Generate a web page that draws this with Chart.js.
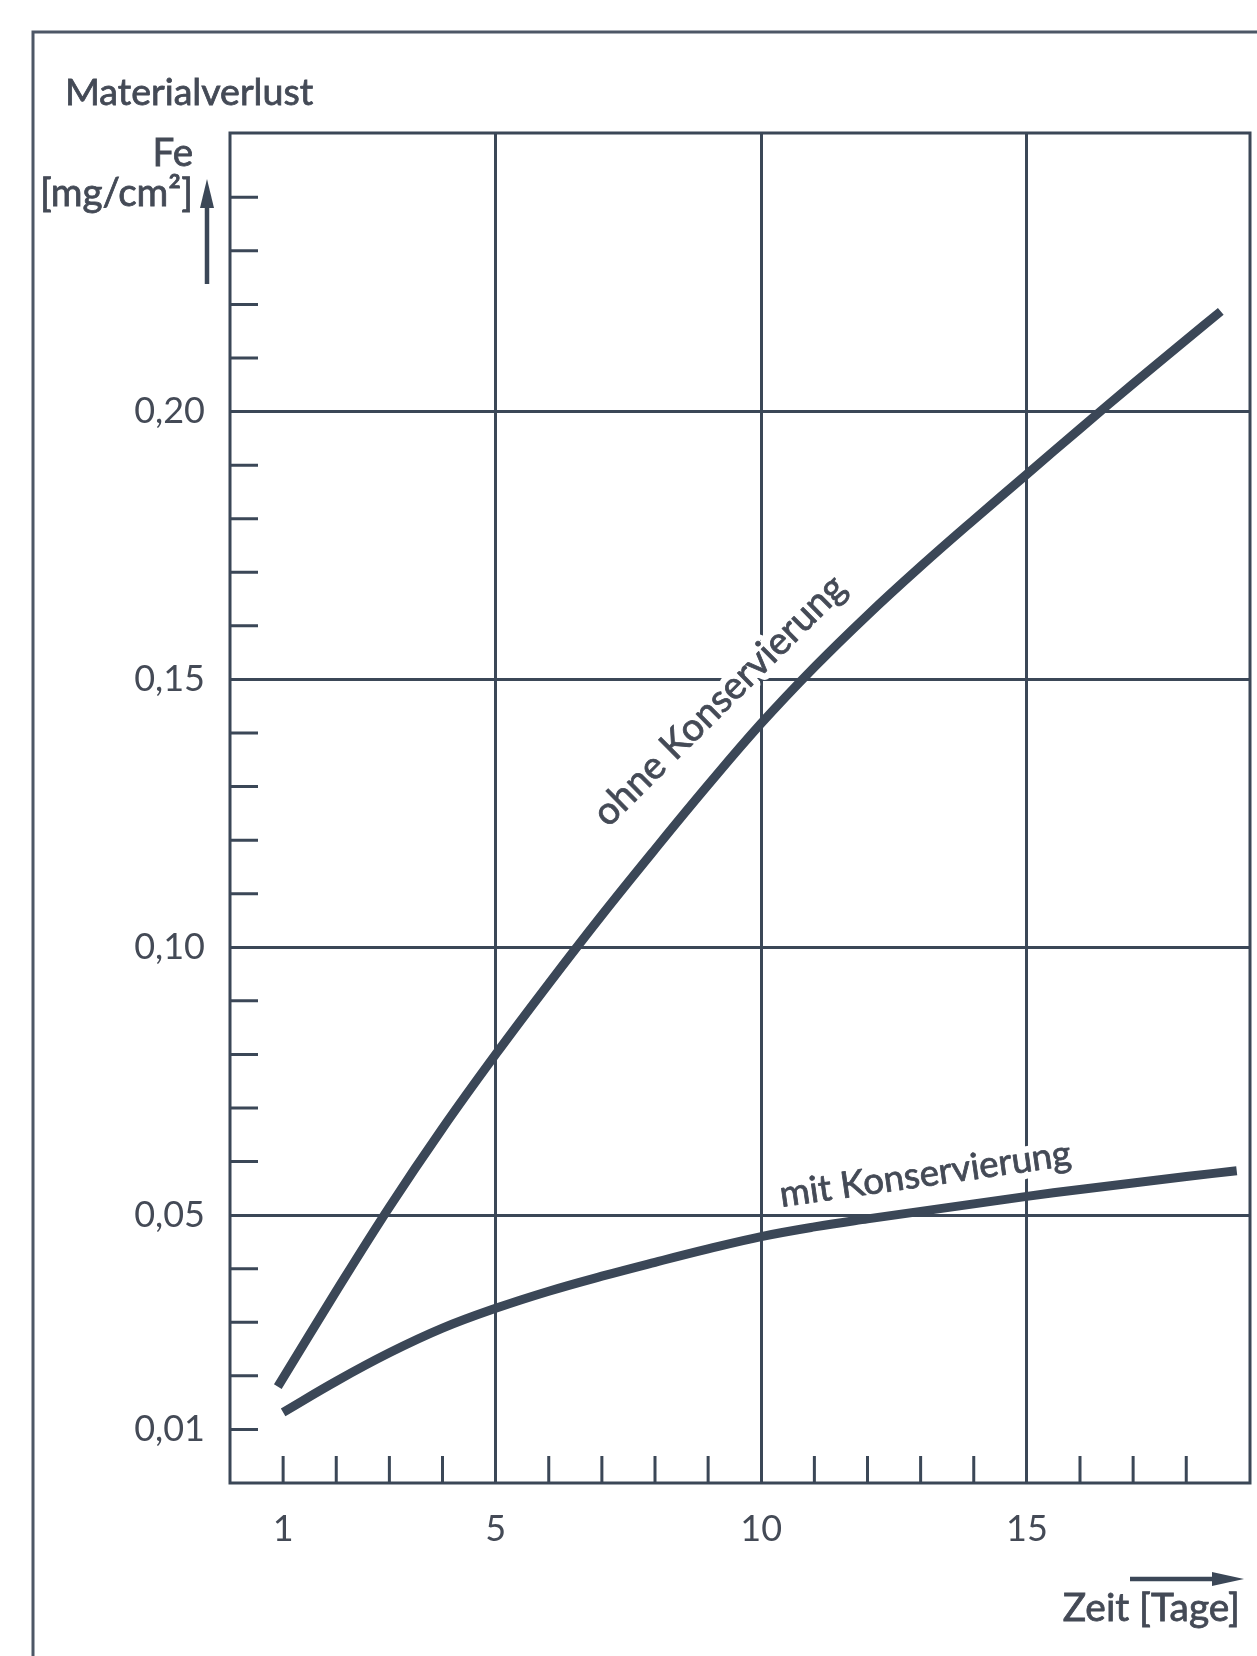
<!DOCTYPE html>
<html lang="de">
<head>
<meta charset="UTF-8">
<title>Materialverlust</title>
<script src="https://cdn.jsdelivr.net/npm/chart.js"></script>
<style>
  html, body { margin: 0; padding: 0; background: #fff; }
  canvas { display: block; }
</style>
</head>
<body>
<canvas id="chart" width="1257" height="1656"></canvas>
<script>
  // Zeit [Tage] vs Materialverlust Fe [mg/cm²]
  const ohneX = [0.9, 2, 3, 4, 5, 6, 7, 8, 9, 10, 11, 12, 13, 14, 15, 16, 17, 18, 18.65];
  const ohneY = [0.018, 0.0358, 0.0515, 0.0662, 0.08, 0.0932, 0.106, 0.1183, 0.1303, 0.1418, 0.1523, 0.162, 0.1711, 0.1798, 0.1883, 0.1968, 0.2052, 0.2134, 0.2187];
  const mitX = [1, 2, 3, 4, 5, 6, 7, 8, 9, 10, 11, 12, 13, 14, 15, 16, 17, 18, 18.95];
  const mitY = [0.0132, 0.019, 0.0243, 0.0289, 0.0326, 0.0358, 0.0386, 0.0412, 0.0437, 0.046, 0.0478, 0.0493, 0.0507, 0.0521, 0.0535, 0.0548, 0.056, 0.0572, 0.0583];

  const xTicks = [1, 2, 3, 4, 5, 6, 7, 8, 9, 10, 11, 12, 13, 14, 15, 16, 17, 18];
  const xLabelValues = [1, 5, 10, 15];
  const xLabels = ['1', '5', '10', '15'];
  const xGrid = [5, 10, 15];

  const yTicks = [0.01, 0.02, 0.03, 0.04, 0.05, 0.06, 0.07, 0.08, 0.09, 0.10, 0.11, 0.12,
                  0.13, 0.14, 0.15, 0.16, 0.17, 0.18, 0.19, 0.20, 0.21, 0.22, 0.23, 0.24];
  const yLabelValues = [0.01, 0.05, 0.10, 0.15, 0.20];
  const yLabels = ['0,01', '0,05', '0,10', '0,15', '0,20'];
  const yGrid = [0.05, 0.10, 0.15, 0.20];

  const ink = '#3b4757';
  const textInk = '#444a56';
  const family = 'Lato, "DejaVu Sans", sans-serif';

  const has = (arr, v) => arr.some(a => Math.abs(a - v) < 1e-9);
  const labelFor = (vals, labels, v) => {
    const i = vals.findIndex(a => Math.abs(a - v) < 1e-9);
    return i < 0 ? '' : labels[i];
  };

  function fitFont(ctx, text, width) {
    ctx.font = '100px ' + family;
    const size = 100 * width / ctx.measureText(text).width;
    ctx.font = size.toFixed(1) + 'px ' + family;
    return size;
  }

  // filled text with a thin outline so it reads as heavy as the print
  function inkText(ctx, text, x, y) {
    ctx.fillText(text, x, y);
    ctx.strokeText(text, x, y);
  }

  function curveLabel(ctx, chart, text, xv, yv, angle, width) {
    const px = chart.scales.x.getPixelForValue(xv);
    const py = chart.scales.y.getPixelForValue(yv);
    ctx.save();
    ctx.translate(px, py);
    ctx.rotate(angle * Math.PI / 180);
    fitFont(ctx, text, width);
    ctx.textAlign = 'left';
    ctx.textBaseline = 'alphabetic';
    ctx.lineJoin = 'round';
    ctx.strokeStyle = '#fff';
    ctx.lineWidth = 14;
    ctx.strokeText(text, 0, 0);
    ctx.fillStyle = textInk;
    ctx.strokeStyle = textInk;
    ctx.lineWidth = 0.8;
    inkText(ctx, text, 0, 0);
    ctx.restore();
  }

  const decor = {
    id: 'decor',
    beforeDatasetsDraw(chart) {
      const { ctx, chartArea: a, scales } = chart;
      ctx.save();
      ctx.strokeStyle = ink;
      ctx.lineWidth = 3;
      // short inward ticks
      ctx.beginPath();
      xTicks.filter(v => !has(xGrid, v)).forEach(v => {
        const p = scales.x.getPixelForValue(v);
        ctx.moveTo(p, a.bottom);
        ctx.lineTo(p, a.bottom - 27);
      });
      yTicks.filter(v => !has(yGrid, v)).forEach(v => {
        const p = scales.y.getPixelForValue(v);
        ctx.moveTo(a.left, p);
        ctx.lineTo(a.left + 28, p);
      });
      ctx.stroke();
      ctx.strokeRect(a.left, a.top, a.right - a.left, a.bottom - a.top);
      ctx.restore();

      curveLabel(ctx, chart, 'ohne Konservierung', 7.12, 0.1222, -44.8, 338);
      curveLabel(ctx, chart, 'mit Konservierung', 10.38, 0.0515, -8.2, 294);
    },
    afterDraw(chart) {
      const { ctx } = chart;
      ctx.save();
      // outer frame
      ctx.strokeStyle = '#4d5766';
      ctx.lineWidth = 3;
      ctx.beginPath();
      ctx.moveTo(33, 1660);
      ctx.lineTo(33, 32);
      ctx.lineTo(1262, 32);
      ctx.stroke();

      ctx.fillStyle = textInk;
      ctx.strokeStyle = textInk;
      ctx.lineWidth = 0.8;
      ctx.textBaseline = 'alphabetic';
      ctx.textAlign = 'left';
      fitFont(ctx, 'Materialverlust', 248);
      inkText(ctx, 'Materialverlust', 65, 105);

      ctx.textAlign = 'right';
      fitFont(ctx, '[mg/cm²]', 153);
      inkText(ctx, 'Fe', 193, 166);
      inkText(ctx, '[mg/cm²]', 193, 206);

      fitFont(ctx, 'Zeit [Tage]', 177);
      inkText(ctx, 'Zeit [Tage]', 1240, 1621);

      // axis arrows
      ctx.fillStyle = ink;
      ctx.strokeStyle = ink;
      ctx.lineWidth = 4.5;
      ctx.beginPath();
      ctx.moveTo(207, 284);
      ctx.lineTo(207, 200);
      ctx.stroke();
      ctx.beginPath();
      ctx.moveTo(207, 179);
      ctx.lineTo(200, 208);
      ctx.lineTo(214, 208);
      ctx.closePath();
      ctx.fill();

      ctx.beginPath();
      ctx.moveTo(1130, 1579);
      ctx.lineTo(1220, 1579);
      ctx.stroke();
      ctx.beginPath();
      ctx.moveTo(1244, 1579);
      ctx.lineTo(1212, 1572);
      ctx.lineTo(1212, 1586);
      ctx.closePath();
      ctx.fill();
      ctx.restore();
    }
  };

  function toPoints(xs, ys) {
    return xs.map((x, i) => ({ x, y: ys[i] }));
  }

  function draw() {
    new Chart(document.getElementById('chart'), {
      type: 'line',
      data: {
        datasets: [
          { label: 'ohne Konservierung', data: toPoints(ohneX, ohneY) },
          { label: 'mit Konservierung', data: toPoints(mitX, mitY) }
        ]
      },
      options: {
        responsive: false,
        animation: false,
        devicePixelRatio: 1,
        layout: { padding: { left: 0, top: 133, right: 7, bottom: 0 } },
        elements: {
          line: { borderColor: ink, borderWidth: 9, tension: 0.4, borderCapStyle: 'butt' },
          point: { radius: 0 }
        },
        plugins: { legend: { display: false }, tooltip: { enabled: false } },
        scales: {
          x: {
            type: 'linear',
            min: 0,
            max: 19.2,
            afterFit: s => { s.height = 173; },
            afterBuildTicks: s => { s.ticks = xTicks.map(v => ({ value: v })); },
            border: { display: false },
            grid: {
              drawTicks: false,
              lineWidth: 3,
              color: c => (c.tick && has(xGrid, c.tick.value)) ? ink : 'rgba(0,0,0,0)'
            },
            ticks: {
              autoSkip: false,
              maxRotation: 0,
              padding: 25,
              color: textInk,
              font: { family: family, size: 36 },
              callback: v => labelFor(xLabelValues, xLabels, v)
            }
          },
          y: {
            type: 'linear',
            min: 0,
            max: 0.252,
            afterFit: s => { s.width = 230; },
            afterBuildTicks: s => { s.ticks = yTicks.map(v => ({ value: v })); },
            border: { display: false },
            grid: {
              drawTicks: false,
              lineWidth: 3,
              color: c => (c.tick && has(yGrid, c.tick.value)) ? ink : 'rgba(0,0,0,0)'
            },
            ticks: {
              autoSkip: false,
              padding: 25,
              color: textInk,
              font: { family: family, size: 36 },
              callback: v => labelFor(yLabelValues, yLabels, v)
            }
          }
        }
      },
      plugins: [decor]
    });
  }

  document.fonts.load('36px Lato').then(draw, draw);
</script>
</body>
</html>
